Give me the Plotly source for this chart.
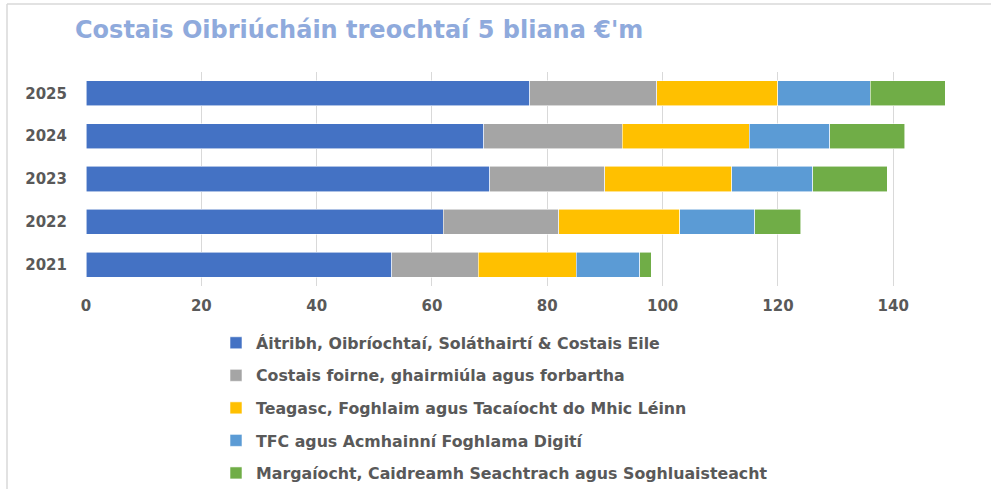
import plotly.graph_objects as go

years = ["2021", "2022", "2023", "2024", "2025"]
series_names = [
    "Áitribh, Oibríochtaí, Soláthairtí & Costais Eile",
    "Costais foirne, ghairmiúla agus forbartha",
    "Teagasc, Foghlaim agus Tacaíocht do Mhic Léinn",
    "TFC agus Acmhainní Foghlama Digití",
    "Margaíocht, Caidreamh Seachtrach agus Soghluaisteacht",
]
aitribh = [53, 62, 70, 69, 77]
costais_foirne = [15, 20, 20, 24, 22]
teagasc = [17, 21, 22, 22, 21]
tfc = [11, 13, 14, 14, 16]
margaiocht = [2, 8, 13, 13, 13]
colors = ["#4472C4", "#A5A5A5", "#FFC000", "#5B9BD5", "#70AD47"]
x_ticks = [0, 20, 40, 60, 80, 100, 120, 140]

values = [aitribh, costais_foirne, teagasc, tfc, margaiocht]
FONT = "DejaVu Sans"
GREY = "#595959"

fig = go.Figure()
for i, (name, vals, col) in enumerate(zip(series_names, values, colors)):
    fig.add_trace(go.Bar(
        y=years, x=vals, name=name, orientation="h",
        marker=dict(color=col, line=dict(color="rgba(255,255,255,0.7)", width=0.8)),
        legendgroup=f"g{i}",
    ))

W, H = 991, 489
L, R, T, B = 86, 0, 72, 203
ph = H - T - B
pw = W - L - R

def px_x(x):
    return (x - L) / pw

def px_y(y):
    return (H - B - y) / ph

fig.update_layout(
    width=W, height=H,
    barmode="stack", bargap=0.415,
    plot_bgcolor="white", paper_bgcolor="white",
    margin=dict(l=L, r=R, t=T, b=B, autoexpand=False),
    title=dict(
        text="Costais Oibriúcháin treochtaí 5 bliana €'m",
        font=dict(family=FONT, size=24, color="#8FAADC", weight="bold"),
        x=75 / W, xanchor="left", xref="container",
        y=1 - 30 / H, yanchor="middle", yref="container",
    ),
    xaxis=dict(
        range=[0, (W - L) / 5.766], tickvals=x_ticks, showgrid=True,
        gridcolor="#D9D9D9", gridwidth=1, zeroline=False, showline=False,
        tickfont=dict(family=FONT, size=15, color=GREY, weight="bold"),
        ticklabelstandoff=9, automargin=False,
    ),
    yaxis=dict(
        showgrid=False, zeroline=False, showline=False,
        tickfont=dict(family=FONT, size=15, color=GREY, weight="bold"),
        ticklabelstandoff=18, automargin=False,
    ),
    legend=dict(
        x=px_x(216), xanchor="left", y=px_y(326), yanchor="top",
        font=dict(family=FONT, size=15.8, color=GREY, weight="bold"),
        traceorder="grouped", tracegroupgap=9, itemwidth=30,
        bgcolor="rgba(0,0,0,0)",
    ),
    shapes=[
        dict(type="line", xref="paper", yref="paper", x0=px_x(7), x1=px_x(W + 5),
             y0=px_y(4), y1=px_y(4), line=dict(color="#D9D9D9", width=1.5)),
        dict(type="line", xref="paper", yref="paper", x0=px_x(7), x1=px_x(7),
             y0=px_y(4), y1=px_y(H + 5), line=dict(color="#D9D9D9", width=1.5)),
    ],
)

fig.write_html("out.html", config={"displayModeBar": False},
               post_script="document.body.style.margin='0';")
